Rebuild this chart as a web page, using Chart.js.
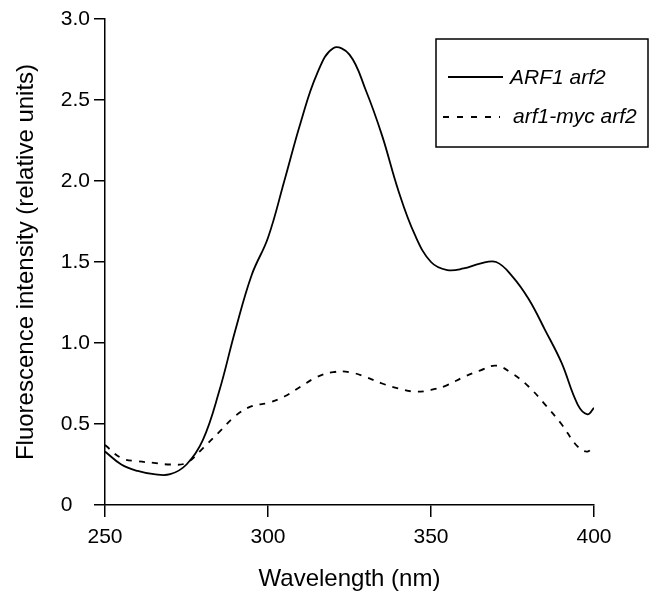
<!DOCTYPE html>
<html>
<head>
<meta charset="utf-8">
<script src="https://cdn.jsdelivr.net/npm/chart.js@4"></script>
<style>
  html, body { margin: 0; padding: 0; background: #fff; }
  #wrap { width: 656px; height: 596px; }
</style>
</head>
<body>
<div id="wrap"><canvas id="myChart"></canvas></div>
<script>
// wavelengths (nm)
const wavelengths = [250, 255, 260, 265, 270, 275, 280, 285, 290, 295, 300, 305, 310, 315, 320, 325,
  330, 335, 340, 345, 350, 355, 360, 365, 370, 375, 380, 385, 390, 395, 398, 400];

// ARF1 arf2 (solid)
const arf1Values = [0.33, 0.25, 0.21, 0.19, 0.19, 0.25, 0.40, 0.70, 1.08, 1.42, 1.65, 2.00, 2.36, 2.66, 2.82, 2.78,
  2.56, 2.28, 1.94, 1.67, 1.50, 1.45, 1.46, 1.49, 1.50, 1.41, 1.27, 1.08, 0.88, 0.62, 0.56, 0.60];

// arf1-myc arf2 (dashed)
const mycValues = [0.37, 0.29, 0.27, 0.26, 0.25, 0.26, 0.35, 0.45, 0.55, 0.61, 0.63, 0.67, 0.73, 0.79, 0.82, 0.82,
  0.79, 0.75, 0.72, 0.70, 0.71, 0.74, 0.79, 0.83, 0.86, 0.81, 0.73, 0.62, 0.50, 0.36, 0.33, 0.37];

const seriesNames = ['ARF1 arf2', 'arf1-myc arf2'];
const xTicks = [250, 300, 350, 400];
const yTicks = [0, 0.5, 1.0, 1.5, 2.0, 2.5, 3.0];

const FONT = '"Liberation Sans", Arial, Helvetica, sans-serif';

function toPoints(vals) {
  return wavelengths.map(function (w, i) { return { x: w, y: vals[i] }; });
}

// legend box drawn inside the plot, top right
const boxLegend = {
  id: 'boxLegend',
  afterDraw: function (chart) {
    const ctx = chart.ctx;
    ctx.save();
    ctx.strokeStyle = '#000';
    ctx.lineWidth = 1.5;
    ctx.strokeRect(436, 39, 212, 108);

    ctx.lineWidth = 1.8;
    ctx.beginPath();
    ctx.moveTo(448, 77); ctx.lineTo(503, 77);
    ctx.stroke();

    ctx.setLineDash([6, 8]);
    ctx.beginPath();
    ctx.moveTo(443, 117); ctx.lineTo(500, 117);
    ctx.stroke();
    ctx.setLineDash([]);

    ctx.fillStyle = '#000';
    ctx.font = 'italic 21px ' + FONT;
    ctx.textBaseline = 'alphabetic';
    ctx.fillText(seriesNames[0], 510, 84);
    ctx.fillText(seriesNames[1], 513, 123);
    ctx.restore();
  }
};

const config = {
  type: 'line',
  data: {
    datasets: [{
      label: seriesNames[0],
      data: toPoints(arf1Values),
      borderColor: '#000',
      borderWidth: 1.8,
      pointRadius: 0,
      tension: 0.4,
      fill: false
    }, {
      label: seriesNames[1],
      data: toPoints(mycValues),
      borderColor: '#000',
      borderWidth: 1.8,
      borderDash: [6, 7],
      pointRadius: 0,
      tension: 0.4,
      fill: false
    }]
  },
  options: {
    responsive: false,
    animation: false,
    layout: { padding: { left: 0, top: 19, right: 62, bottom: 0 } },
    plugins: {
      legend: { display: false },
      tooltip: { enabled: false }
    },
    scales: {
      x: {
        type: 'linear',
        min: 250,
        max: 400,
        afterFit: function (scale) { scale.height = 91; },
        afterBuildTicks: function (scale) { scale.ticks = xTicks.map(function (v) { return { value: v }; }); },
        border: { display: true, color: '#000', width: 1.5 },
        grid: { drawOnChartArea: false, drawTicks: true, tickLength: 12, color: '#000', lineWidth: 1.5 },
        ticks: { color: '#000', padding: 8, maxRotation: 0, font: { family: FONT, size: 21 } },
        title: {
          display: true,
          text: 'Wavelength (nm)',
          color: '#000',
          font: { family: FONT, size: 24 },
          padding: { top: 0, bottom: 2 }
        }
      },
      y: {
        min: 0,
        max: 3,
        afterFit: function (scale) { scale.width = 105; },
        afterBuildTicks: function (scale) { scale.ticks = yTicks.map(function (v) { return { value: v }; }); },
        border: { display: true, color: '#000', width: 1.5 },
        grid: { drawOnChartArea: false, drawTicks: true, tickLength: 11, color: '#000', lineWidth: 1.5 },
        ticks: {
          color: '#000',
          padding: 4,
          font: { family: FONT, size: 21 },
          callback: function (v) { return v === 0 ? '0   ' : v.toFixed(1); }
        },
        title: {
          display: true,
          text: 'Fluorescence intensity (relative units)',
          color: '#000',
          font: { family: FONT, size: 24 },
          padding: { top: 12, bottom: 0 }
        }
      }
    }
  },
  plugins: [boxLegend]
};

const canvas = document.getElementById('myChart');
canvas.width = 656;
canvas.height = 596;
const myChart = new Chart(canvas, config);
</script>
</body>
</html>
